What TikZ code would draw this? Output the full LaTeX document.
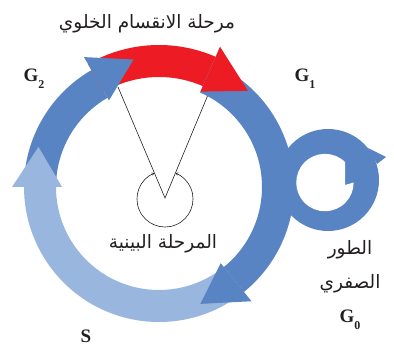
\documentclass[tikz,border=0pt]{standalone}
\usepackage{fontspec}
\setmainfont{Liberation Serif}
\TeXXeTstate=1
\newfontfamily\arabicfont[Script=Arabic]{DejaVu Sans}
\usetikzlibrary{arrows.meta}
\definecolor{cblue}{RGB}{89,132,195}
\definecolor{clight}{RGB}{153,183,222}
\definecolor{cred}{RGB}{237,28,36}
\definecolor{ctext}{RGB}{35,31,32}
\newcommand\shaftarc[5]{%
  \fill[#1] (#2:#5) arc[start angle=#2,end angle=#3,radius=#5pt] -- (#3:#4) arc[start angle=#3,end angle=#2,radius=#4pt] -- cycle;}
\newcommand\headtri[6]{%
  \fill[#1] (#2:#4) -- (#3:#6) -- (#2:#5) -- cycle;}
\tikzset{
  lat/.style={text=ctext,font=\fontsize{19}{20}\selectfont\bfseries,inner sep=0pt},
  arab/.style={text=ctext,font=\arabicfont\fontsize{18.5}{20}\selectfont,inner sep=0pt,align=center},
  thinline/.style={draw=ctext,line width=0.6pt}
}
\newcommand\sub[1]{\raisebox{-0.35em}{\fontsize{12}{12}\selectfont #1}}
\begin{document}
\begin{tikzpicture}[x=1pt,y=1pt]
\useasboundingbox (0,0) rectangle (394,346);
% small ring G0
\fill[cblue] (328,166) circle[radius=51pt];
\fill[cblue] (368,198) -- (386,189) -- (377,182) -- cycle;
\fill[white] (345,184) arc[start angle=45.7,end angle=360,radius=28.7pt] -- (345,161) -- cycle;
% V lines and small circle
\coordinate (v) at (165,148);
\coordinate (la) at (118,259);
\coordinate (ra) at (210,256);
\draw[thinline] (la) -- (v) -- (ra);
\draw[thinline,{To[length=2.5pt,width=3pt]}-{To[length=2.5pt,width=3pt]}] ([shift={(112.9:28pt)}]165,147) arc[start angle=112.9,end angle=427.4,radius=28pt];
% main ring
\begin{scope}[shift={(159,159)}]
  \shaftarc{clight}{-51}{-180}{103}{135}
  \shaftarc{cblue}{180}{120}{103}{135}
  \shaftarc{cred}{120}{66.5}{110}{142}
  \shaftarc{cblue}{66.5}{-51}{103}{135}
  \headtri{clight}{-180}{-198.4}{97}{147}{127}
  \headtri{cblue}{120}{101.3}{100}{150}{130}
  \headtri{cred}{66.5}{47.2}{104}{153}{131}
  \headtri{cblue}{-51}{-70.5}{98}{147}{124}
\end{scope}
% labels
\node[arab] (title) at (147,322) {\beginR مرحلة الانقسام الخلوي\endR};
\node[arab] (inter) at (163,102) {\beginR المرحلة البينية\endR};
\node[arab] (g0a) at (350,96) {\beginR الطور\endR};
\node[arab] (g0b) at (350,62) {\beginR الصفري\endR};
\node[lat] (g2) at (34,267) {G\sub{2}};
\node[lat] (g1) at (305,267) {G\sub{1}};
\node[lat] (s) at (86,10) {S};
\node[lat] (g0) at (350,26) {G\sub{0}};
\end{tikzpicture}
\end{document}
